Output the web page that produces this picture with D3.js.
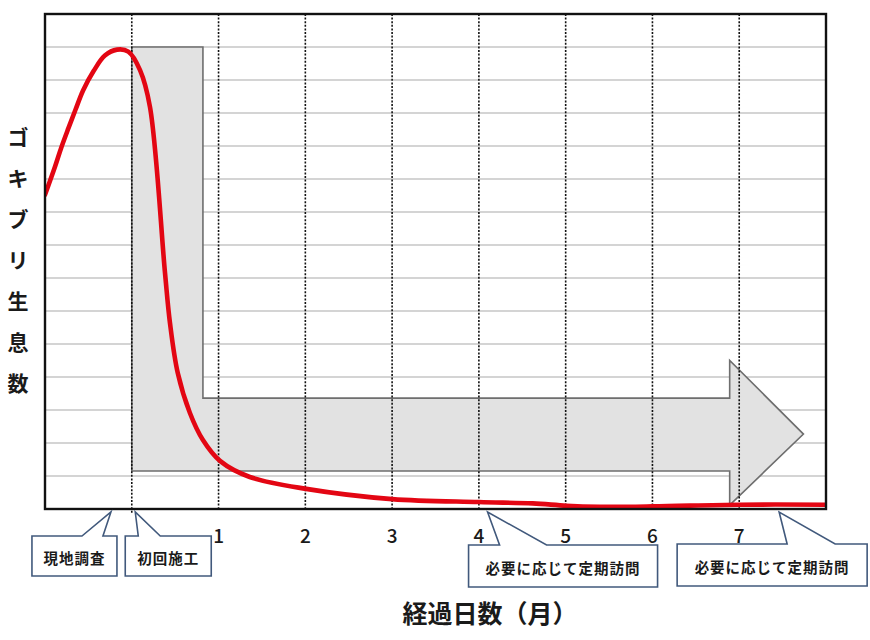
<!DOCTYPE html>
<html>
<head>
<meta charset="utf-8">
<title>ゴキブリ生息数</title>
<script src="https://d3js.org/d3.v7.min.js"></script>
<style>
  body { margin: 0; background: #fff; }
  text { font-family: "Noto Sans CJK JP", "Noto Sans", sans-serif; fill: #1a1a1a; }
</style>
</head>
<body>
<div id="chart"></div>
<script>
// ---- data ----
var monthTicks = [1, 2, 3, 4, 5, 6, 7];
var dottedMonths = [0, 1, 2, 3, 4, 5, 6, 7];
var gridLevels = [1, 2, 3, 4, 5, 6, 7, 8, 9, 10, 11, 12, 13, 14];

// red curve (x in months, y in grid units)
var curveX = [-1.0, -0.885, -0.81, -0.73, -0.65, -0.56, -0.44, -0.31, -0.17, -0.04, 0.095, 0.21, 0.383, 0.44, 0.53, 0.67, 0.82, 1.02, 1.36, 2.01, 3.0, 4.0, 4.62, 5.01, 5.39, 6.0, 7.0, 8.0];
var curveY = [9.52, 10.37, 10.97, 11.54, 12.09, 12.69, 13.27, 13.74, 13.92, 13.86, 13.3, 12.18, 7.15, 5.64, 4.12, 2.91, 2.09, 1.45, 0.97, 0.61, 0.30, 0.21, 0.17, 0.10, 0.07, 0.08, 0.13, 0.13];

// grey L-shaped arrow outline
var arrowX = [0, 0.82, 0.82, 6.89, 6.89, 7.74, 6.89, 6.89, 0];
var arrowY = [14, 14, 3.36, 3.36, 4.5, 2.27, 0.12, 1.15, 1.15];

var yLabel = ["ゴ", "キ", "ブ", "リ", "生", "息", "数"];
var xTitle = "経過日数（月）";

var calloutText = ["現地調査", "初回施工", "必要に応じて定期訪問", "必要に応じて定期訪問"];
var calloutAt = [-0.24, 0.04, 4.1, 7.46];

// ---- layout ----
var W = 870, H = 640;
var plot = {left: 45, top: 14, right: 826, bottom: 509};

var svg = d3.select("#chart").append("svg")
    .attr("width", W).attr("height", H);

var x = d3.scaleLinear().domain([-1, 8]).range([plot.left, plot.right]);
var y = d3.scaleLinear().domain([0, 15]).range([plot.bottom, plot.top]);

svg.append("clipPath").attr("id", "clip")
  .append("rect")
    .attr("x", plot.left).attr("y", plot.top)
    .attr("width", plot.right - plot.left).attr("height", plot.bottom - plot.top);

// horizontal grid
svg.append("g")
  .selectAll("line")
  .data(gridLevels)
  .enter().append("line")
    .attr("x1", plot.left).attr("x2", plot.right)
    .attr("y1", function(d) { return y(d); })
    .attr("y2", function(d) { return y(d); })
    .attr("stroke", "#c6c6c6")
    .attr("stroke-width", 1.3);

// grey arrow
var arrowPts = arrowX.map(function(v, i) { return [x(v), y(arrowY[i])]; });
svg.append("path")
  .attr("d", d3.line()(arrowPts) + "Z")
  .attr("fill", "#e2e2e2")
  .attr("stroke", "#6e6e6e")
  .attr("stroke-width", 1.6)
  .attr("stroke-linejoin", "miter");

// vertical dotted month lines
svg.append("g")
  .selectAll("line")
  .data(dottedMonths)
  .enter().append("line")
    .attr("x1", function(d) { return x(d); })
    .attr("x2", function(d) { return x(d); })
    .attr("y1", plot.top)
    .attr("y2", function(d) { return d === 0 ? plot.bottom + 5 : plot.bottom; })
    .attr("stroke", "#111")
    .attr("stroke-width", 1.6)
    .attr("stroke-dasharray", "2,1.6");

// red curve
var curvePts = curveX.map(function(v, i) { return [v, curveY[i]]; });
svg.append("path")
  .datum(curvePts)
  .attr("clip-path", "url(#clip)")
  .attr("fill", "none")
  .attr("stroke", "#e30613")
  .attr("stroke-width", 4.6)
  .attr("stroke-linecap", "round")
  .attr("d", d3.line()
    .curve(d3.curveCatmullRom.alpha(0.5))
    .x(function(d) { return x(d[0]); })
    .y(function(d) { return y(d[1]); }));

// frame
svg.append("rect")
  .attr("x", plot.left).attr("y", plot.top)
  .attr("width", plot.right - plot.left).attr("height", plot.bottom - plot.top)
  .attr("fill", "none")
  .attr("stroke", "#111")
  .attr("stroke-width", 2.4);

// month numbers
svg.append("g")
  .selectAll("text")
  .data(monthTicks)
  .enter().append("text")
    .attr("x", function(d) { return x(d); })
    .attr("y", 534)
    .attr("text-anchor", "middle")
    .attr("dominant-baseline", "central")
    .style("font-size", "19px")
    .style("font-weight", "500")
    .text(function(d) { return d; });

// y label, stacked characters
svg.append("g")
  .selectAll("text")
  .data(yLabel)
  .enter().append("text")
    .attr("x", 18)
    .attr("y", function(d, i) { return 136 + i * 41; })
    .attr("text-anchor", "middle")
    .attr("dominant-baseline", "central")
    .style("font-size", "21px")
    .style("font-weight", "700")
    .text(function(d) { return d; });

// x title
svg.append("text")
  .attr("x", 490).attr("y", 612)
  .attr("text-anchor", "middle")
  .attr("dominant-baseline", "central")
  .style("font-size", "25px")
  .style("font-weight", "700")
  .text(xTitle);

// callouts: box offsets relative to the tip (left, right, base1, base2, top, bottom)
var calloutBox = [
  [-79, 6, -29, -8, 536, 576],
  [-10, 76, 3, 25, 536, 576],
  [-19, 170, 12, 59, 545, 587],
  [-102, 88, 8, 56, 544, 586]
];
var tipY = 512;

calloutText.forEach(function(t, i) {
  var tx = x(calloutAt[i]);
  var b = calloutBox[i];
  var p = d3.path();
  p.moveTo(tx + b[0], b[4]);
  p.lineTo(tx + b[2], b[4]);
  p.lineTo(tx, tipY);
  p.lineTo(tx + b[3], b[4]);
  p.lineTo(tx + b[1], b[4]);
  p.lineTo(tx + b[1], b[5]);
  p.lineTo(tx + b[0], b[5]);
  p.closePath();
  svg.append("path")
    .attr("d", p.toString())
    .attr("fill", "#fff")
    .attr("stroke", "#41597c")
    .attr("stroke-width", 1.6)
    .attr("stroke-linejoin", "miter");
  svg.append("text")
    .attr("x", tx + (b[0] + b[1]) / 2)
    .attr("y", (b[4] + b[5]) / 2 + 1)
    .attr("text-anchor", "middle")
    .attr("dominant-baseline", "central")
    .style("font-size", "14.5px")
    .style("font-weight", "700")
    .style("letter-spacing", "1px")
    .text(t);
});
</script>
</body>
</html>
